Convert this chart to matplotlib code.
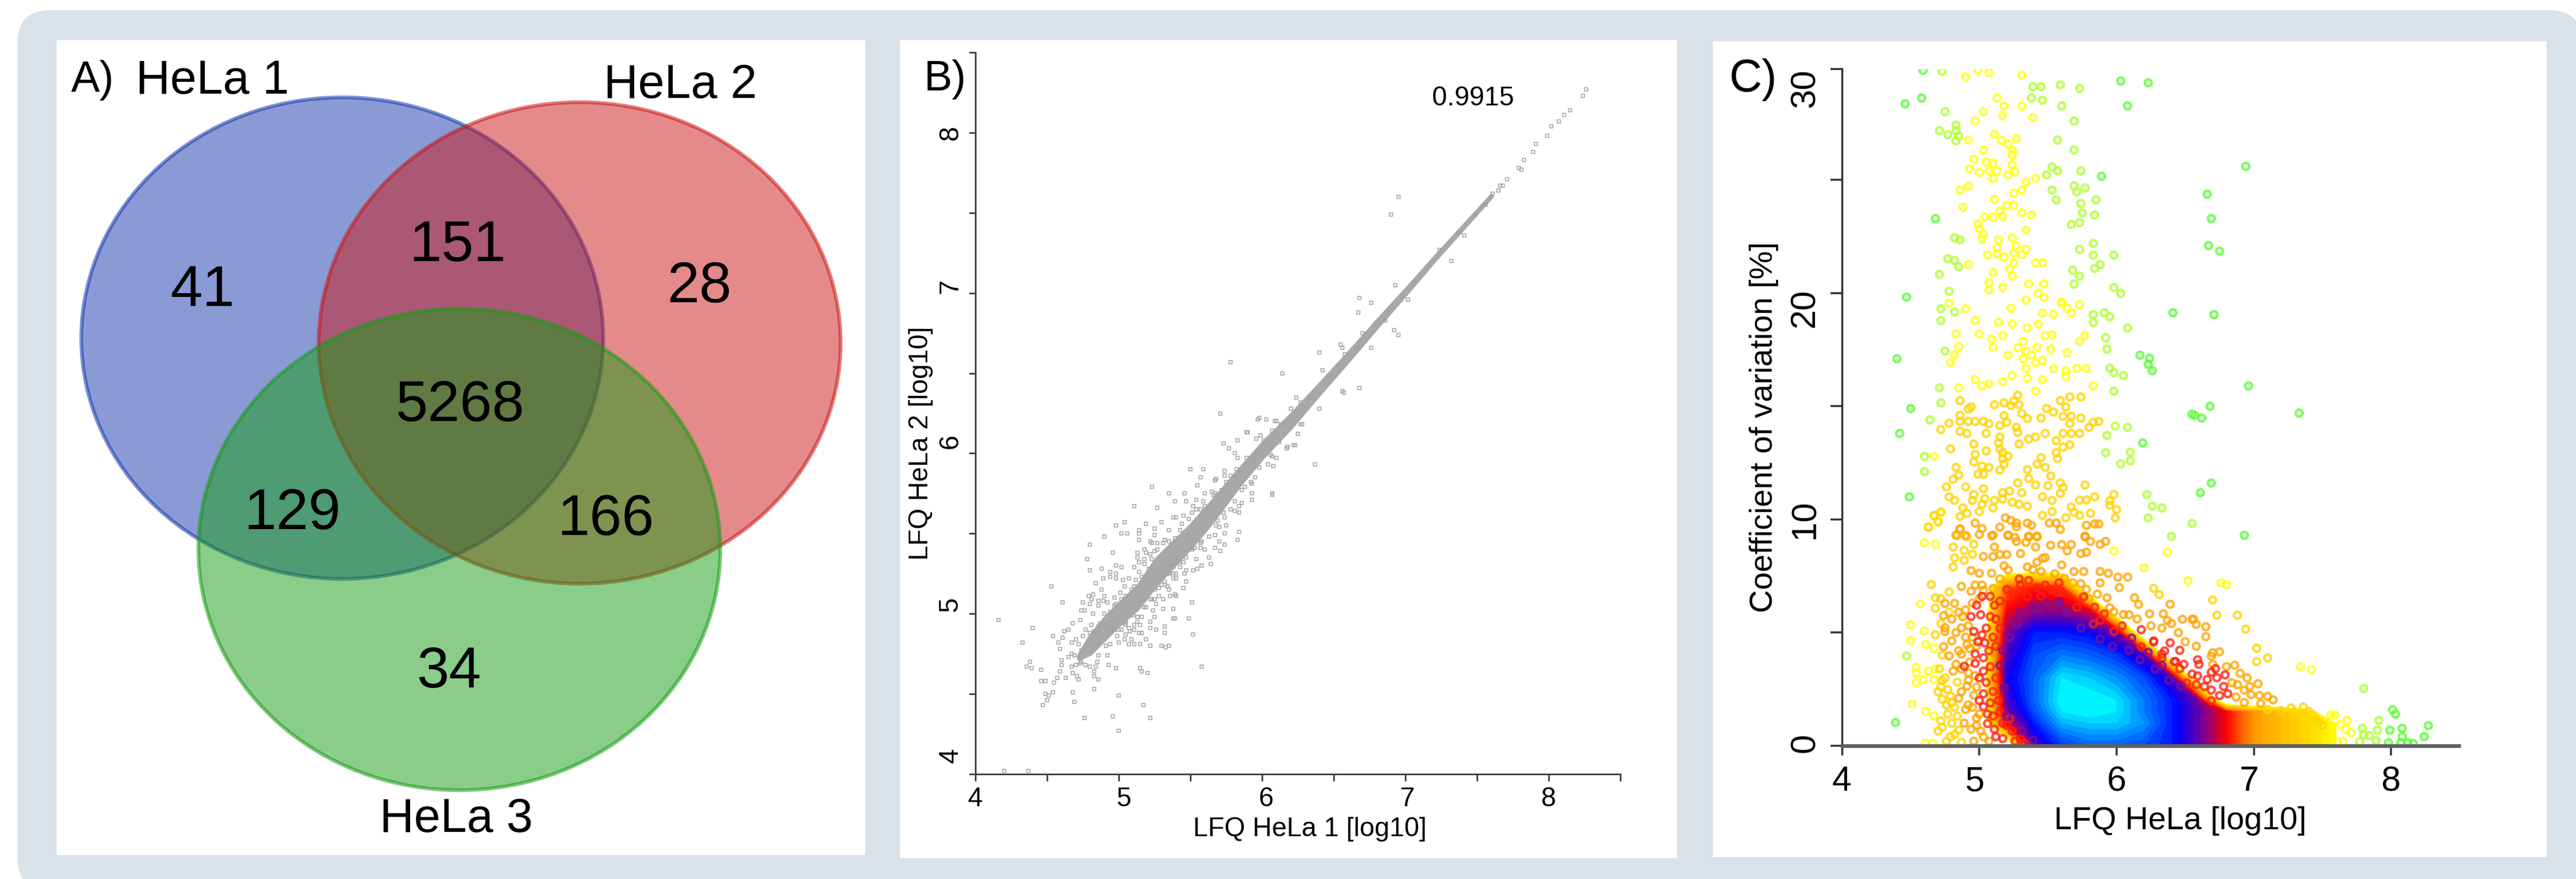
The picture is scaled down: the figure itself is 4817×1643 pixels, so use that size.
import matplotlib
matplotlib.use('Agg')
import matplotlib.pyplot as plt
import numpy as np
from matplotlib.colors import LinearSegmentedColormap
from matplotlib.patches import Ellipse, FancyBboxPatch, Rectangle
from matplotlib.transforms import ScaledTranslation

plt.rcParams['font.family'] = ['Liberation Sans', 'DejaVu Sans']

# ---- A) venn
venn_names = ['HeLa 1', 'HeLa 2', 'HeLa 3']
venn_counts = ['41', '151', '28', '5268', '129', '166', '34']

# ---- B) LFQ HeLa 1 vs HeLa 2, ridge of the cloud and single points
ridge_x = [4.72, 4.8, 4.9, 5.0, 5.13, 5.27, 5.5, 5.64, 5.85, 6.01, 6.2, 6.4, 6.6, 6.8, 7.0, 7.2, 7.4, 7.6]
ridge_lo = [4.72, 4.75, 4.84, 4.93, 5.03, 5.19, 5.41, 5.56, 5.81, 5.98, 6.16, 6.37, 6.575, 6.785, 6.99, 7.2, 7.4, 7.6]
ridge_hi = [4.74, 4.86, 4.97, 5.06, 5.17, 5.35, 5.55, 5.69, 5.91, 6.07, 6.24, 6.43, 6.625, 6.825, 7.02, 7.22, 7.415, 7.61]
corr_label = '0.9915'
hela_pts = [
    (4.16, 4.96), (4.4, 4.91), (4.33, 4.82), (4.53, 5.17), (4.61, 5.07), (4.54, 4.86), (4.58, 4.82), (4.59, 4.78),
    (4.62, 4.89), (4.65, 4.9), (4.61, 4.85), (4.68, 4.94), (4.73, 4.96), (4.75, 5.07), (4.8, 5.06), (4.74, 5.02),
    (4.76, 5.02), (4.79, 5.11), (4.82, 5.12), (4.81, 5.09), (4.86, 5.08), (4.86, 5.05), (4.92, 5.07), (4.89, 5.08),
    (4.9, 5.11), (4.97, 5.1), (4.88, 5.15), (4.84, 5.19), (4.89, 5.22), (4.8, 5.27), (4.88, 5.28), (4.78, 5.34),
    (4.8, 5.43), (4.96, 5.38), (4.9, 5.48), (4.98, 5.55), (5.04, 5.57), (5.02, 5.5), (5.06, 5.5), (5.19, 5.56),
    (5.14, 5.52), (5.14, 5.5), (5.14, 5.46), (5.25, 5.53), (5.25, 5.49), (5.3, 5.57), (5.35, 5.52), (5.23, 5.79),
    (5.11, 5.67), (5.27, 5.66), (5.35, 5.75), (5.46, 5.75), (5.39, 5.7), (5.47, 5.7), (5.5, 5.9), (5.59, 5.9),
    (5.57, 5.85), (5.55, 5.8), (5.6, 5.75), (5.54, 5.71), (5.59, 5.7), (5.52, 5.67), (5.38, 5.6), (5.4, 5.6),
    (5.45, 5.61), (5.51, 5.63), (5.57, 5.65), (5.68, 5.84), (5.67, 5.83), (5.74, 5.86), (5.74, 5.89), (5.65, 5.76),
    (5.67, 5.75), (5.73, 6.06), (5.77, 6.03), (5.83, 6.08), (5.89, 6.13), (5.9, 6.13), (5.99, 6.11), (5.96, 6.09),
    (5.81, 6.0), (5.97, 6.21), (6.03, 6.21), (6.1, 6.2), (5.83, 5.97), (5.89, 5.97), (6.37, 5.93), (6.07, 5.74),
    (6.04, 5.93), (6.08, 5.92), (6.07, 5.98), (6.1, 5.97), (6.23, 6.05), (6.18, 6.04), (6.25, 6.12), (6.28, 6.18),
    (5.95, 5.85), (5.93, 5.81), (5.88, 5.79), (5.93, 5.75), (5.93, 5.71), (5.86, 5.69), (5.84, 5.67), (5.84, 5.63),
    (5.81, 5.64), (5.78, 5.65), (5.75, 5.55), (5.84, 5.51), (5.83, 5.46), (5.74, 5.5), (5.7, 5.54), (5.68, 5.55),
    (5.74, 5.6), (5.67, 5.49), (5.63, 5.48), (5.7, 5.45), (5.74, 5.43), (5.71, 5.39), (5.67, 5.41), (5.6, 5.4),
    (5.57, 5.41), (5.53, 5.41), (5.51, 5.41), (5.58, 5.45), (5.63, 5.35), (5.64, 5.31), (5.54, 5.34), (5.58, 5.3),
    (5.55, 5.28), (5.52, 5.27), (5.47, 5.27), (5.43, 5.29), (5.46, 5.25), (5.47, 5.2), (5.4, 5.22), (5.45, 5.16),
    (5.39, 5.12), (5.36, 5.11), (5.4, 5.11), (5.51, 5.07), (5.38, 5.03), (5.31, 5.09), (5.31, 5.03), (5.26, 5.06),
    (5.28, 5.11), (5.34, 5.17), (5.35, 5.15), (5.24, 5.02), (5.25, 4.98), (5.49, 4.97), (5.39, 4.97), (5.38, 4.97),
    (5.52, 4.87), (5.32, 4.92), (5.32, 4.88), (5.26, 4.9), (5.22, 4.95), (5.22, 4.91), (5.16, 4.98), (5.13, 4.98),
    (5.15, 4.93), (5.11, 4.93), (5.14, 4.88), (5.16, 4.88), (5.08, 4.89), (5.05, 4.87), (4.99, 4.86), (5.04, 4.84),
    (5.09, 4.84), (5.19, 4.84), (5.0, 4.82), (4.94, 4.81), (4.91, 4.8), (5.07, 4.81), (5.11, 4.81), (5.15, 4.81),
    (5.22, 4.8), (5.3, 4.8), (5.33, 4.79), (5.35, 4.8), (4.92, 4.74), (4.86, 4.74), (4.85, 4.7), (4.8, 4.67),
    (4.84, 4.67), (4.93, 4.68), (4.98, 4.66), (4.83, 4.64), (4.83, 4.61), (4.86, 4.59), (5.15, 4.66), (5.16, 4.64),
    (5.2, 4.63), (5.58, 4.67), (4.83, 4.53), (5.0, 4.49), (4.68, 4.51), (4.69, 4.45), (5.17, 4.43), (4.76, 4.35),
    (4.96, 4.36), (5.22, 4.35), (5.0, 4.27), (4.38, 4.7), (4.36, 4.67), (4.39, 4.66), (4.46, 4.65), (4.6, 4.71),
    (4.6, 4.68), (4.59, 4.64), (4.57, 4.6), (4.63, 4.6), (4.46, 4.58), (4.49, 4.58), (4.55, 4.57), (4.49, 4.5),
    (4.54, 4.51), (4.51, 4.49), (4.5, 4.46), (4.47, 4.43), (4.65, 4.73), (4.67, 4.75), (4.69, 4.74), (4.67, 4.67),
    (4.7, 4.68), (4.73, 4.69), (4.74, 4.7), (4.77, 4.68), (4.68, 4.63), (4.71, 4.61), (4.72, 4.59), (4.67, 4.82),
    (4.7, 4.84), (4.72, 4.81), (4.75, 4.86), (4.77, 4.9), (4.81, 4.93), (4.82, 5.0), (4.9, 5.0), (4.87, 4.94),
    (4.86, 4.92), (4.94, 5.26), (4.98, 5.3), (5.02, 5.29), (4.98, 5.25), (4.94, 5.23), (4.98, 5.22), (5.03, 5.21),
    (5.07, 5.22), (5.04, 5.17), (5.11, 5.29), (5.13, 5.38), (5.13, 5.35), (5.18, 5.4), (5.19, 5.38), (5.23, 5.44),
    (5.22, 5.45), (5.27, 5.4), (5.27, 5.44), (5.32, 5.46), (5.01, 5.13), (5.14, 5.32), (5.18, 5.34), (5.22, 5.37),
    (5.36, 5.3), (5.35, 5.25), (5.38, 5.25), (5.4, 5.35), (5.45, 5.32), (5.32, 5.2), (5.28, 5.16), (5.23, 5.09),
    (5.19, 5.04), (5.05, 4.95), (5.04, 4.94), (5.11, 4.9), (6.95, 7.6), (6.9, 7.49), (5.78, 6.57), (6.14, 6.5),
    (5.71, 6.25), (6.4, 6.63), (6.68, 6.97), (6.67, 6.88), (6.76, 6.94), (6.93, 7.05), (6.92, 6.77), (6.95, 6.74),
    (6.68, 6.41), (6.56, 6.39), (6.57, 6.38), (6.4, 6.28), (7.32, 7.2), (7.41, 7.36), (6.55, 6.68), (6.76, 6.66),
    (6.67, 6.66), (6.7, 6.75), (6.27, 6.18), (6.22, 6.05), (6.17, 6.03), (5.98, 6.22), (6.09, 6.2), (6.07, 5.75),
    (6.24, 6.35), (7.02, 6.96), (6.86, 6.83), (8.26, 8.27), (8.24, 8.23), (8.15, 8.14), (8.11, 8.11), (8.07, 8.07),
    (8.02, 8.04), (7.99, 7.98), (7.91, 7.93), (7.89, 7.88), (7.83, 7.83), (7.79, 7.78), (7.81, 7.77), (7.71, 7.71),
    (7.66, 7.67), (7.61, 7.62), (4.2, 4.02), (4.37, 4.02),
    # close to the ridge
    (4.8, 4.88), (4.83, 4.89), (4.85, 4.88), (4.74, 4.77), (4.86, 4.82), (4.91, 4.91), (4.94, 4.89), (4.97, 4.9),
    (4.94, 4.94), (4.91, 4.93), (4.87, 4.9), (5.07, 4.91), (5.05, 4.93), (5.02, 4.9), (5.0, 4.9), (5.1, 4.99),
    (5.13, 4.95), (5.18, 5.04), (5.14, 5.06), (5.17, 5.09), (5.22, 5.09), (5.25, 5.09), (5.25, 5.15), (5.3, 5.18),
    (5.32, 5.18), (5.38, 5.22), (5.4, 5.25), (5.36, 5.25), (5.35, 5.29), (5.38, 5.29), (5.42, 5.32), (5.14, 5.26),
    (5.16, 5.23), (5.12, 5.21), (5.11, 5.17), (5.09, 5.15), (5.05, 5.11), (5.02, 5.09), (4.98, 5.06), (4.97, 5.05),
    (4.94, 5.01), (5.18, 5.31), (5.21, 5.28), (5.23, 5.34), (5.25, 5.39), (5.31, 5.44), (5.35, 5.45), (5.39, 5.47),
    (5.43, 5.52), (5.44, 5.56), (5.49, 5.59), (5.54, 5.65), (5.6, 5.67), (5.66, 5.74), (5.72, 5.77), (5.75, 5.82),
    (5.78, 5.86), (5.82, 5.9), (5.94, 5.99), (6.01, 6.08), (6.07, 6.14), (6.13, 6.18), (5.57, 5.44), (5.51, 5.4),
    (5.47, 5.35), (5.69, 5.58), (5.73, 5.63), (5.81, 5.7), (5.86, 5.77), (5.92, 5.82), (5.98, 5.91), (6.06, 5.99),
    (6.12, 6.07), (6.56, 6.66), (6.49, 6.49), (6.35, 6.35), (6.2, 6.28), (6.27, 6.32), (6.42, 6.52), (6.58, 6.62),
    (6.72, 6.74), (6.79, 6.81), (6.88, 6.89), (7.06, 7.06), (7.15, 7.16), (7.24, 7.27), (7.38, 7.38), (7.49, 7.49),
    (7.56, 7.55), (7.65, 7.64), (7.68, 7.67), (6.15, 6.18), (6.1, 6.11), (6.04, 6.05), (5.97, 6.01), (5.94, 5.95),
    (5.85, 5.88),
]

# ---- C) coefficient of variation, single circles by colour group
cv_green = [
    (4.59, 29.84), (6.03, 29.37), (6.23, 29.29), (4.46, 28.36), (4.58, 28.62), (6.08, 28.27), (6.66, 24.37),
    (4.68, 23.29), (6.69, 23.29), (6.67, 22.1), (6.75, 21.85), (4.47, 19.82), (5.89, 25.16), (6.41, 19.13),
    (6.71, 19.05), (4.4, 17.1), (6.17, 17.26), (6.24, 17.12), (6.23, 16.85), (6.26, 16.57), (4.5, 14.9),
    (4.42, 13.8), (6.68, 15.0), (6.57, 14.6), (6.55, 14.65), (6.62, 14.48), (6.19, 13.38), (6.69, 11.61),
    (6.61, 11.18), (4.49, 11.0), (4.39, 1.03), (6.94, 25.6), (6.96, 15.9), (7.33, 14.7), (6.93, 9.3),
    (8.27, 0.89), (8.24, 0.41), (8.08, 0.77), (8.08, 0.41), (8.07, 0.14), (8.12, 0.14), (8.16, 0.1),
    (8.01, 1.59), (8.03, 1.4), (7.99, 0.69), (7.98, 0.14),
]
cv_lime = [
    (4.73, 29.79), (5.39, 29.12), (5.45, 29.12), (5.59, 29.2), (5.73, 29.04), (5.38, 28.62), (5.46, 28.52),
    (5.6, 28.27), (4.75, 28.02), (5.69, 27.6), (4.71, 27.18), (4.77, 27.0), (4.83, 27.42), (4.83, 27.17),
    (4.85, 26.93), (4.83, 26.73), (5.57, 26.76), (5.69, 26.32), (5.53, 25.57), (5.57, 25.4), (5.49, 25.22),
    (5.74, 25.4), (5.69, 24.74), (5.71, 24.47), (5.77, 24.65), (5.53, 24.55), (5.56, 24.12), (5.85, 24.12),
    (5.74, 23.96), (5.75, 23.55), (5.84, 23.45), (5.73, 23.11), (5.67, 23.03), (5.83, 22.19), (5.73, 21.93),
    (5.83, 21.68), (5.98, 21.68), (5.88, 21.26), (5.84, 21.09), (5.68, 21.01), (5.73, 20.75), (5.69, 20.4),
    (5.98, 20.24), (6.03, 19.99), (4.82, 22.44), (4.86, 22.36), (4.77, 21.52), (4.82, 21.44), (4.85, 21.16),
    (4.71, 20.83), (4.78, 20.08), (4.72, 19.31), (4.82, 19.17), (4.72, 18.79), (5.83, 19.05), (5.83, 18.7),
    (5.91, 19.13), (5.95, 18.96), (6.08, 18.46), (5.92, 18.03), (5.93, 17.53), (4.75, 17.44), (5.95, 16.69),
    (5.98, 16.48), (6.05, 16.35), (4.71, 15.82), (5.98, 15.67), (4.72, 15.15), (4.64, 14.4), (5.99, 14.13),
    (6.08, 14.07), (5.93, 13.71), (4.6, 12.79), (4.6, 12.11), (5.92, 12.95), (6.1, 12.97), (6.1, 12.59),
    (6.03, 12.46), (6.22, 11.1), (6.26, 10.59), (6.33, 10.51), (6.23, 10.07), (6.55, 9.82), (6.4, 9.25),
    (4.47, 3.97), (7.8, 2.54), (7.91, 1.12), (7.9, 0.69), (7.89, 0.22), (7.79, 0.77), (7.8, 0.49), (7.77, 0.18),
    (7.84, 0.45),
]
cv_yellow = [
    (4.9, 29.55), (4.99, 29.84), (5.07, 29.73), (5.31, 29.63), (5.13, 28.62), (5.18, 28.27), (5.31, 28.25),
    (5.03, 28.02), (5.17, 27.84), (5.39, 27.76), (4.97, 27.6), (5.11, 27.01), (5.16, 26.75), (5.27, 26.83),
    (5.21, 26.58), (5.24, 26.3), (5.24, 26.1), (4.92, 26.76), (5.03, 26.32), (4.96, 25.92), (5.05, 25.79),
    (5.1, 25.75), (4.93, 25.5), (5.0, 25.32), (5.07, 25.4), (5.13, 25.4), (5.1, 25.07), (5.24, 25.67),
    (5.21, 25.22), (5.26, 25.36), (5.41, 25.07), (5.34, 24.91), (5.31, 24.55), (5.25, 24.41), (4.92, 24.72),
    (4.86, 24.55), (5.11, 24.14), (5.2, 23.88), (5.25, 23.88), (4.88, 23.79), (5.31, 23.55), (5.38, 23.45),
    (5.04, 23.37), (5.1, 23.35), (5.17, 23.39), (5.15, 23.62), (4.99, 23.06), (5.0, 22.84), (5.03, 22.6),
    (5.02, 22.4), (5.34, 22.78), (5.24, 22.44), (5.14, 22.36), (5.13, 22.0), (5.27, 22.09), (5.34, 21.93),
    (5.06, 21.68), (5.13, 21.73), (5.25, 21.77), (5.31, 21.69), (5.18, 21.58), (5.25, 21.34), (5.41, 21.34),
    (5.46, 21.34), (4.92, 21.26), (5.22, 21.08), (5.1, 20.91), (5.24, 20.75), (5.07, 20.47), (5.07, 20.14),
    (5.17, 20.24), (5.36, 20.41), (5.47, 20.41), (5.47, 19.8), (5.43, 20.0), (5.34, 19.69), (5.6, 19.6),
    (4.78, 19.56), (4.9, 19.31), (4.97, 18.79), (5.14, 18.71), (5.24, 18.63), (5.35, 18.46), (5.43, 18.63),
    (5.23, 19.33), (5.46, 19.11), (5.54, 19.05), (5.6, 19.56), (5.64, 19.33), (5.67, 19.11), (5.73, 19.48),
    (4.83, 18.2), (5.0, 18.2), (5.09, 17.97), (5.17, 18.12), (5.1, 17.61), (5.48, 18.12), (5.53, 18.15),
    (5.77, 18.12), (5.73, 17.87), (5.32, 17.87), (4.85, 17.63), (4.82, 17.26), (4.79, 16.92), (5.28, 17.59),
    (5.34, 17.44), (5.42, 17.61), (5.52, 17.53), (5.64, 17.36), (5.21, 17.26), (5.38, 17.26), (5.32, 17.1),
    (5.46, 17.02), (5.41, 16.92), (5.34, 16.67), (5.54, 16.67), (5.63, 16.57), (5.71, 16.67), (5.78, 16.67),
    (5.63, 16.32), (5.24, 16.35), (5.35, 16.24), (5.46, 16.18), (4.97, 16.18), (5.02, 15.9), (5.07, 16.0),
    (5.17, 16.08), (4.85, 15.82), (5.83, 15.9), (5.41, 15.67), (4.67, 12.79), (4.63, 9.67), (4.6, 8.97),
    (4.68, 8.89), (4.67, 10.15), (4.72, 10.31), (4.7, 9.9), (5.98, 8.61), (6.2, 7.87), (6.37, 8.55), (6.52, 7.29),
    (6.76, 7.2), (6.8, 7.12), (4.57, 6.27), (4.5, 5.34), (4.6, 5.07), (4.5, 4.65), (4.61, 4.48), (4.67, 4.3),
    (4.54, 3.47), (4.54, 3.22), (4.54, 2.78), (4.63, 3.3), (4.59, 2.93), (4.68, 3.39), (4.67, 2.93), (4.51, 1.85),
    (4.61, 1.52), (4.67, 1.31), (4.61, 0.11), (4.66, 0.11), (7.34, 3.48), (7.42, 3.37), (7.68, 1.12), (7.63, 0.96),
    (7.59, 1.36), (7.56, 1.36), (7.67, 0.73), (7.71, 0.57), (7.56, 0.14), (7.65, 0.18), (7.61, 0.18),
]
cv_gold = [
    (4.86, 15.25), (5.28, 15.49), (5.11, 15.07), (5.18, 15.15), (5.23, 15.03), (5.25, 15.23), (5.29, 15.07),
    (4.94, 14.97), (4.92, 14.88), (5.59, 15.25), (5.66, 15.41), (5.74, 15.41), (5.63, 14.97), (5.49, 14.9),
    (5.54, 14.74), (5.31, 14.68), (5.35, 14.46), (5.45, 14.48), (4.86, 14.6), (5.18, 14.59), (5.61, 14.56),
    (5.67, 14.56), (5.74, 14.48), (4.78, 14.25), (4.72, 13.97), (4.86, 14.33), (4.92, 14.33), (4.97, 14.33),
    (5.03, 14.33), (5.07, 14.23), (5.2, 14.29), (5.15, 14.15), (5.66, 14.23), (5.8, 14.07), (5.83, 14.29),
    (5.87, 14.33), (5.27, 14.07), (5.28, 13.85), (4.86, 13.89), (4.91, 13.8), (5.05, 13.8), (5.61, 13.8),
    (5.67, 13.8), (5.73, 13.8), (5.48, 13.8), (5.41, 13.64), (5.36, 13.55), (5.15, 13.64), (5.56, 13.48),
    (5.14, 13.38), (5.29, 13.33), (4.96, 13.33), (5.66, 13.3), (4.79, 13.12), (5.05, 13.03), (5.61, 13.2),
    (5.15, 13.1), (5.56, 12.95), (5.17, 12.95), (4.97, 12.87), (5.21, 12.79), (5.17, 12.69), (5.57, 12.69),
    (5.45, 12.73), (4.96, 12.54), (5.42, 12.44), (5.18, 12.44), (5.02, 12.36), (5.07, 12.3), (5.48, 12.3),
    (4.83, 12.3), (5.35, 12.2), (5.15, 12.18), (4.99, 12.0), (5.03, 12.0), (4.85, 11.96), (5.52, 11.92),
    (5.36, 11.81), (4.81, 11.77), (5.28, 11.61), (5.59, 11.61), (5.41, 11.53), (4.76, 11.44), (4.9, 11.44),
    (5.03, 11.36), (5.5, 11.49), (5.61, 11.41), (5.77, 11.52), (5.31, 11.18), (5.17, 11.18), (5.22, 11.26),
    (5.59, 11.15), (4.96, 11.1), (5.98, 11.1), (5.46, 11.0), (4.78, 11.0), (5.84, 11.0), (5.78, 10.86),
    (5.73, 10.85), (5.53, 10.84), (5.04, 10.92), (5.95, 10.82), (4.82, 10.84), (4.95, 10.84), (5.11, 10.84),
    (5.17, 10.9), (5.24, 10.76), (5.02, 10.67), (5.95, 10.63), (5.29, 10.67), (5.35, 10.59), (5.1, 10.51),
    (4.88, 10.51), (5.67, 10.55), (6.0, 10.43), (4.72, 10.33), (5.0, 10.35), (5.53, 10.35), (4.91, 10.27),
    (4.67, 10.18), (4.86, 10.13), (5.46, 10.18), (5.63, 10.07), (5.69, 10.31), (5.81, 10.27), (5.73, 10.18),
    (5.99, 10.07), (4.7, 9.89), (4.63, 9.66), (4.81, 8.78), (4.82, 8.3), (4.81, 7.9), (4.89, 8.63), (4.89, 8.2),
    (4.96, 8.9), (4.95, 8.46), (4.84, 9.29), (4.91, 9.23), (4.86, 9.57), (4.65, 7.12), (4.68, 6.54), (4.68, 6.08),
    (6.27, 6.95), (6.31, 6.68), (6.7, 6.44), (6.73, 5.77), (6.88, 5.77), (6.94, 5.15), (7.02, 4.31), (7.1, 3.88),
    (7.02, 3.72), (7.27, 1.67), (7.36, 1.71), (7.43, 1.36), (7.4, 1.52), (7.47, 1.04), (4.73, 2.89), (4.77, 2.48),
    (4.7, 2.39), (4.84, 2.81), (4.73, 2.06), (4.8, 1.9), (4.77, 1.4), (4.84, 1.31), (4.7, 0.65), (4.79, 0.4),
    (4.87, 0.15), (4.73, 0.82), (4.72, 2.6), (4.75, 3.0), (4.79, 2.2), (4.82, 1.7), (4.76, 1.8), (4.8, 1.0),
    (4.72, 1.1), (4.85, 0.7), (4.76, 0.2), (4.82, 0.5), (4.71, 3.4), (4.73, 4.0), (4.68, 4.9), (4.72, 5.4),
    (4.78, 5.9), (4.72, 6.5), (4.78, 6.8), (7.3, 1.5), (7.2, 1.55), (7.1, 1.6), (7.45, 1.15), (7.5, 0.9),
]
cv_orange = [
    (5.19, 10.07), (4.97, 9.84), (5.23, 9.96), (5.27, 9.84), (5.35, 9.84), (5.51, 9.84), (5.56, 9.84), (5.84, 9.8),
    (5.87, 9.8), (5.02, 9.6), (5.15, 9.66), (5.27, 9.68), (5.38, 9.74), (4.86, 9.58), (5.59, 9.56), (5.78, 9.74),
    (4.83, 9.31), (4.9, 9.29), (5.0, 9.34), (5.1, 9.31), (5.21, 9.31), (5.36, 9.26), (5.42, 9.26), (5.77, 9.26),
    (5.26, 9.2), (4.94, 7.74), (5.0, 7.62), (5.09, 7.62), (5.03, 8.36), (5.1, 8.36), (5.15, 8.45), (5.2, 8.45),
    (5.18, 7.95), (5.21, 7.77), (5.09, 9.27), (5.21, 9.29), (5.11, 8.78), (5.27, 9.03), (5.3, 8.49), (5.34, 8.99),
    (5.41, 8.78), (5.42, 9.23), (5.36, 9.23), (5.52, 8.86), (5.6, 8.89), (5.67, 8.89), (5.64, 8.61), (5.74, 8.49),
    (5.78, 8.55), (5.77, 9.23), (5.81, 9.03), (5.88, 8.9), (5.92, 9.03), (5.48, 8.32), (5.42, 8.11), (4.87, 7.04),
    (4.82, 6.29), (4.75, 6.29), (4.74, 5.75), (4.94, 6.83), (5.03, 6.87), (5.1, 6.95), (5.15, 7.37), (5.39, 7.78),
    (5.46, 8.28), (5.6, 7.99), (5.69, 7.7), (5.76, 7.7), (5.88, 7.7), (5.94, 7.62), (6.01, 7.45), (6.08, 7.45),
    (6.02, 6.99), (5.88, 7.2), (5.74, 7.16), (5.78, 6.91), (5.93, 6.54), (6.13, 6.54), (6.16, 6.25), (6.39, 6.25),
    (6.09, 5.79), (6.24, 5.83), (6.34, 5.83), (6.37, 5.54), (6.4, 5.4), (6.48, 5.59), (6.55, 5.59), (5.98, 5.92),
    (6.56, 5.59), (6.58, 5.37), (6.65, 5.26), (6.65, 4.82), (4.75, 5.21), (4.75, 5.05), (4.8, 4.63), (4.74, 4.38),
    (4.78, 3.97), (4.87, 4.05), (4.87, 5.21), (4.91, 4.47), (4.81, 3.3), (4.87, 3.39), (4.92, 3.22), (4.87, 2.39),
    (4.91, 2.64), (4.96, 2.23), (4.92, 1.81), (4.89, 1.0), (4.98, 1.23), (5.01, 0.65), (4.96, 0.2), (5.07, 0.2),
    (4.94, 0.73), (7.1, 2.18), (7.14, 2.03), (7.03, 2.74), (6.97, 2.62), (7.04, 2.22), (6.93, 1.91), (6.98, 2.26),
    (7.05, 1.87), (6.86, 3.56), (6.88, 2.7), (6.84, 2.78), (6.93, 2.46), (6.87, 2.15), (6.7, 4.11), (6.75, 4.15),
    (6.69, 3.96), (4.9, 6.0), (4.85, 5.9), (4.8, 5.6), (4.95, 6.3), (5.0, 6.5), (4.88, 5.7), (4.92, 5.3), (4.83, 5.0),
    (4.9, 4.8), (4.95, 4.8), (4.85, 4.2), (4.93, 4.3), (4.98, 4.4), (4.93, 3.7), (4.83, 3.6), (4.97, 3.1), (4.92, 2.9),
    (4.98, 2.6), (4.95, 1.7), (5.0, 1.4), (4.98, 0.9), (5.03, 0.4), (4.85, 2.1), (4.9, 1.6), (5.02, 7.1), (4.97, 7.1),
    (5.35, 7.9), (5.45, 7.7), (5.55, 7.6), (5.62, 7.4), (5.68, 7.2), (5.8, 6.5), (5.86, 6.7), (5.95, 6.1), (6.05, 5.8),
    (6.15, 5.6), (6.25, 5.3), (6.33, 5.2), (6.45, 5.0), (6.5, 4.6), (6.58, 4.4), (6.7, 3.6), (6.8, 3.5), (6.9, 3.2),
    (6.95, 3.0),
]
cv_red = [
    (5.29, 7.37), (5.57, 6.79), (5.6, 6.79), (5.76, 6.58), (5.71, 6.12), (5.84, 6.12), (5.91, 5.83), (5.88, 5.54),
    (5.83, 5.38), (5.98, 5.05), (6.04, 5.3), (6.18, 5.13), (6.27, 4.63), (6.39, 4.55), (6.46, 4.22), (6.42, 3.72),
    (6.49, 3.6), (6.33, 4.05), (6.18, 4.38), (4.94, 5.71), (5.01, 5.79), (4.96, 5.05), (4.97, 4.05), (5.04, 4.55),
    (5.03, 3.89), (5.08, 5.71), (5.11, 6.21), (4.98, 6.21), (4.89, 3.51), (4.97, 3.64), (5.03, 1.73), (5.06, 0.98),
    (5.17, 0.32), (5.26, 0.2), (5.24, 0.65), (5.17, 1.0), (5.11, 0.73), (5.1, 1.32), (6.27, 4.59), (6.35, 4.19),
    (6.59, 3.8), (6.6, 3.6), (6.43, 3.72), (6.46, 3.41), (6.33, 3.88), (6.79, 3.13), (6.72, 3.41), (6.69, 3.25),
    (6.55, 3.17), (6.59, 3.09), (6.66, 2.93), (6.51, 2.78), (6.78, 2.62), (6.73, 3.01), (6.69, 2.46), (6.58, 2.7),
    (6.81, 2.3), (6.75, 2.22), (6.69, 1.99), (6.64, 2.62), (5.02, 6.6), (5.08, 6.6), (5.15, 6.4), (5.2, 6.9),
    (5.25, 6.7), (5.3, 7.1), (5.36, 7.3), (5.42, 7.0), (5.48, 7.1), (5.53, 6.9), (5.58, 7.2), (5.35, 6.6), (5.45, 6.6),
    (5.12, 5.6), (5.15, 5.2), (5.05, 5.2), (5.1, 4.8), (5.02, 4.9), (5.07, 4.2), (5.12, 4.4), (5.03, 3.3), (5.08, 3.5),
    (5.12, 3.0), (5.05, 2.8), (5.1, 2.4), (5.03, 2.3), (5.14, 2.0), (5.08, 1.9), (5.15, 1.5), (5.06, 1.4), (5.2, 0.9),
    (5.12, 0.4), (5.22, 1.2), (5.3, 0.3), (5.33, 0.1), (5.0, 3.0), (5.0, 2.0), (4.99, 4.6),
]
cv_purple = [
    (5.3, 5.88), (5.39, 6.12), (5.48, 6.29), (5.57, 6.21), (5.64, 5.88), (5.27, 5.38), (5.22, 4.8), (5.17, 4.22),
    (5.15, 3.55), (5.74, 5.21), (5.88, 4.71), (5.97, 4.38), (6.09, 4.22), (6.17, 3.8), (6.28, 3.39), (6.38, 2.89),
    (6.47, 2.64), (6.11, 4.76), (6.23, 4.13), (6.33, 3.55), (5.18, 2.56), (5.2, 1.31), (5.31, 0.65), (5.39, 0.24),
    (5.43, 6.04), (5.58, 6.37),
]

# overplotted core of panel C: colour reached per cell (1 yellow, 2 orange, 3 red, 4 blue, 5 cyan)
core_x = [5.0, 5.2, 5.4, 5.6, 5.8, 6.0, 6.2, 6.4, 6.6, 6.8, 7.0, 7.2, 7.4, 7.6, 7.8]
core_y = [0, 1, 1.5, 2, 3, 4, 5, 6, 7, 8]
core_level = [
    [0.0, 0.0, 3.7, 4.2, 4.4, 4.4, 4.3, 4.1, 3.6, 3.0, 2.1, 1.7, 1.4, 1.0, 0.0],
    [0.0, 3.1, 4.1, 4.7, 4.8, 4.8, 4.6, 4.1, 3.6, 3.0, 2.1, 1.7, 1.4, 1.0, 0.0],
    [0.0, 3.5, 4.3, 4.9, 5.0, 4.9, 4.5, 4.1, 3.6, 3.0, 2.1, 1.7, 1.3, 0.0, 0.0],
    [0.0, 3.7, 4.4, 5.0, 5.0, 4.9, 4.5, 4.1, 3.5, 0.0, 0.0, 0.0, 0.0, 0.0, 0.0],
    [0.0, 3.9, 4.4, 4.9, 4.8, 4.6, 4.3, 3.7, 0.0, 0.0, 0.0, 0.0, 0.0, 0.0, 0.0],
    [0.0, 3.7, 4.3, 4.5, 4.4, 4.2, 3.7, 0.0, 0.0, 0.0, 0.0, 0.0, 0.0, 0.0, 0.0],
    [0.0, 3.5, 4.1, 4.1, 4.0, 3.5, 0.0, 0.0, 0.0, 0.0, 0.0, 0.0, 0.0, 0.0, 0.0],
    [0.0, 3.0, 3.4, 3.4, 3.1, 0.0, 0.0, 0.0, 0.0, 0.0, 0.0, 0.0, 0.0, 0.0, 0.0],
    [0.0, 2.5, 2.9, 2.7, 0.0, 0.0, 0.0, 0.0, 0.0, 0.0, 0.0, 0.0, 0.0, 0.0, 0.0],
    [0.0, 0.0, 0.0, 0.0, 0.0, 0.0, 0.0, 0.0, 0.0, 0.0, 0.0, 0.0, 0.0, 0.0, 0.0],
]

W, H = 4817, 1643
fig = plt.figure(figsize=(W / 100, H / 100), dpi=100, facecolor='white')

# pixel canvas for the panels and free text
bg = fig.add_axes([0, 0, 1, 1], zorder=0)
bg.set_xlim(0, W)
bg.set_ylim(H, 0)
bg.axis('off')
bg.add_patch(FancyBboxPatch((33, 19), 4795, 1647, boxstyle='round,pad=0,rounding_size=61',
                            fc='#d9e2e9', ec='none'))
for x0, y0, x1, y1 in [(106, 75, 1618, 1598), (1683, 75, 3136, 1604), (3203, 77, 4762, 1602)]:
    bg.add_patch(Rectangle((x0, y0), x1 - x0, y1 - y0, fc='white', ec='none'))


def panel(x0, x1, y_top, y_bottom):
    ax = fig.add_axes([x0 / W, 1 - y_bottom / H, (x1 - x0) / W, (y_bottom - y_top) / H], zorder=2)
    ax.patch.set_visible(False)
    for side in ['top', 'right']:
        ax.spines[side].set_visible(False)
    return ax


def shift_labels(labels, dx=None, dy=None):
    # the tick labels of the source are not centred on their ticks, shift in pixels
    n = len(labels)
    dx = dx or [0] * n
    dy = dy or [0] * n
    for lab, a, b in zip(labels, dx, dy):
        lab.set_transform(lab.get_transform() + ScaledTranslation(a / 100, b / 100, fig.dpi_scale_trans))


# A) venn
venn_colors = [(21 / 255, 55 / 255, 173 / 255), (203 / 255, 23 / 255, 23 / 255), (23 / 255, 157 / 255, 21 / 255)]
venn_centres = [(640, 632), (1084, 641), (859, 1027)]
for (cx, cy), col in zip(venn_centres, venn_colors):
    bg.add_patch(Ellipse((cx, cy), 976, 900, fc=col + (0.5,), ec=col + (0.55,), lw=5, zorder=3))
for name, (tx, ty) in zip(venn_names, [(397, 152), (1272, 160), (853, 1532)]):
    bg.text(tx, ty, name, fontsize=64, ha='center', va='center', zorder=4)
count_pos = [(379, 544), (856, 460), (1308, 537), (860, 759), (547, 961), (1133, 972), (840, 1257)]
for lab, (tx, ty) in zip(venn_counts, count_pos):
    bg.text(tx, ty, lab, fontsize=78, ha='center', va='center', zorder=4)
bg.text(173, 150, 'A)', fontsize=58, ha='center', va='center', zorder=4)

# B) scatter
ax_b = panel(1824, 3030, 98, 1447)
ax_b.set_xlim(4, 8.493)
ax_b.set_ylim(4, 8.494)
ax_b.fill_between(ridge_x, ridge_lo, ridge_hi, color='#a8a8a8', lw=5)
bx, by = np.array(hela_pts).T
ax_b.plot(bx, by, ls='none', marker='s', ms=5.0, mfc='none', mec='#a2a2a2', mew=1.3, alpha=0.9)
b_ticks = np.arange(4, 8.6, 0.5)
ax_b.set_xticks(b_ticks)
ax_b.set_xticklabels(['4', '', '5', '', '6', '', '7', '', '8', ''])
ax_b.set_yticks(b_ticks)
ax_b.set_yticklabels(['4', '', '5', '', '6', '', '7', '', '8', ''], rotation=90, va='center')
ax_b.tick_params(labelsize=36, length=9, width=2.2, color='#404040', pad=8)
for side in ['left', 'bottom']:
    ax_b.spines[side].set_linewidth(2.2)
    ax_b.spines[side].set_color('#404040')
shift_labels(ax_b.get_xticklabels(), dx=[0, 0, 10, 0, 7, 0, 3, 0, 0, 0])
shift_labels(ax_b.get_yticklabels(), dy=[35, 0, 18, 0, 22, 0, 13, 0, 0, 0])
ax_b.set_xlabel('LFQ HeLa 1 [log10]', fontsize=36)
ax_b.xaxis.set_label_coords(2449, 1550, transform=bg.transData)
ax_b.xaxis.label.set_va('center')
ax_b.set_ylabel('LFQ HeLa 2 [log10]', fontsize=36)
ax_b.yaxis.set_label_coords(1722, 829, transform=bg.transData)
ax_b.yaxis.label.set_va('center')
bg.text(2755, 184, corr_label, fontsize=36, ha='center', va='center', zorder=4)
bg.text(1767, 149, 'B)', fontsize=57, ha='center', va='center', zorder=4)

# C) cv
ax_c = panel(3444.5, 4598, 129, 1394)
ax_c.set_xlim(4, 8.493)
ax_c.set_ylim(0, 29.9)
ring = dict(marker='o', s=85, facecolors='none', linewidths=3.4, alpha=0.78)
groups = [(cv_green, '#55ff30'), (cv_lime, '#b0ff30'), (cv_yellow, '#ffff10')]
for pts, col in groups:
    gx, gy = np.array(pts).T
    ax_c.scatter(gx, gy, edgecolors=col, zorder=2, **ring)
core_cmap = LinearSegmentedColormap.from_list('core', [
    (0.0, '#ffff00'), (0.125, '#ffd000'), (0.25, '#ffa500'), (0.375, '#ff6000'), (0.5, '#ff0000'),
    (0.625, '#800090'), (0.75, '#0000ff'), (0.9, '#0090ff'), (1.0, '#00ffff')])
ax_c.contourf(core_x, core_y, core_level, levels=np.linspace(1, 5, 41), cmap=core_cmap, zorder=3,
              antialiased=False)
for pts, col in [(cv_gold, '#ffd400'), (cv_orange, '#ffa400'), (cv_red, '#ff2010'), (cv_purple, '#7a10a0')]:
    gx, gy = np.array(pts).T
    ax_c.scatter(gx, gy, edgecolors=col, zorder=4, **ring)
ax_c.set_xticks([4, 5, 6, 7, 8])
ax_c.set_yticks([0, 5, 10, 15, 20, 25, 29.9])
ax_c.set_yticklabels(['0', '', '10', '', '20', '', '30'], rotation=90, va='center')
ax_c.tick_params(axis='x', labelsize=47, length=13, width=2.6, color='#303030', pad=14)
ax_c.tick_params(axis='y', labelsize=47, length=16, width=2.6, color='#303030', pad=12)
ax_c.spines['left'].set_linewidth(2.6)
ax_c.spines['left'].set_color('#303030')
ax_c.spines['bottom'].set_linewidth(5)
ax_c.spines['bottom'].set_color('#606060')
ax_c.spines['bottom'].set_zorder(6)
shift_labels(ax_c.get_xticklabels(), dx=[-1, -9, 0, -9, -1])
shift_labels(ax_c.get_yticklabels(), dy=[5, 0, 0, 0, -28, 0, -36])
ax_c.set_xlabel('LFQ HeLa [log10]', fontsize=43)
ax_c.xaxis.set_label_coords(4077, 1534, transform=bg.transData)
ax_c.xaxis.label.set_va('center')
ax_c.set_ylabel('Coefficient of variation [%]', fontsize=43)
ax_c.yaxis.set_label_coords(3299, 798, transform=bg.transData)
ax_c.yaxis.label.set_va('center')
bg.text(3278, 149, 'C)', fontsize=61, ha='center', va='center', zorder=4)

fig.savefig('out.png', dpi=100)
